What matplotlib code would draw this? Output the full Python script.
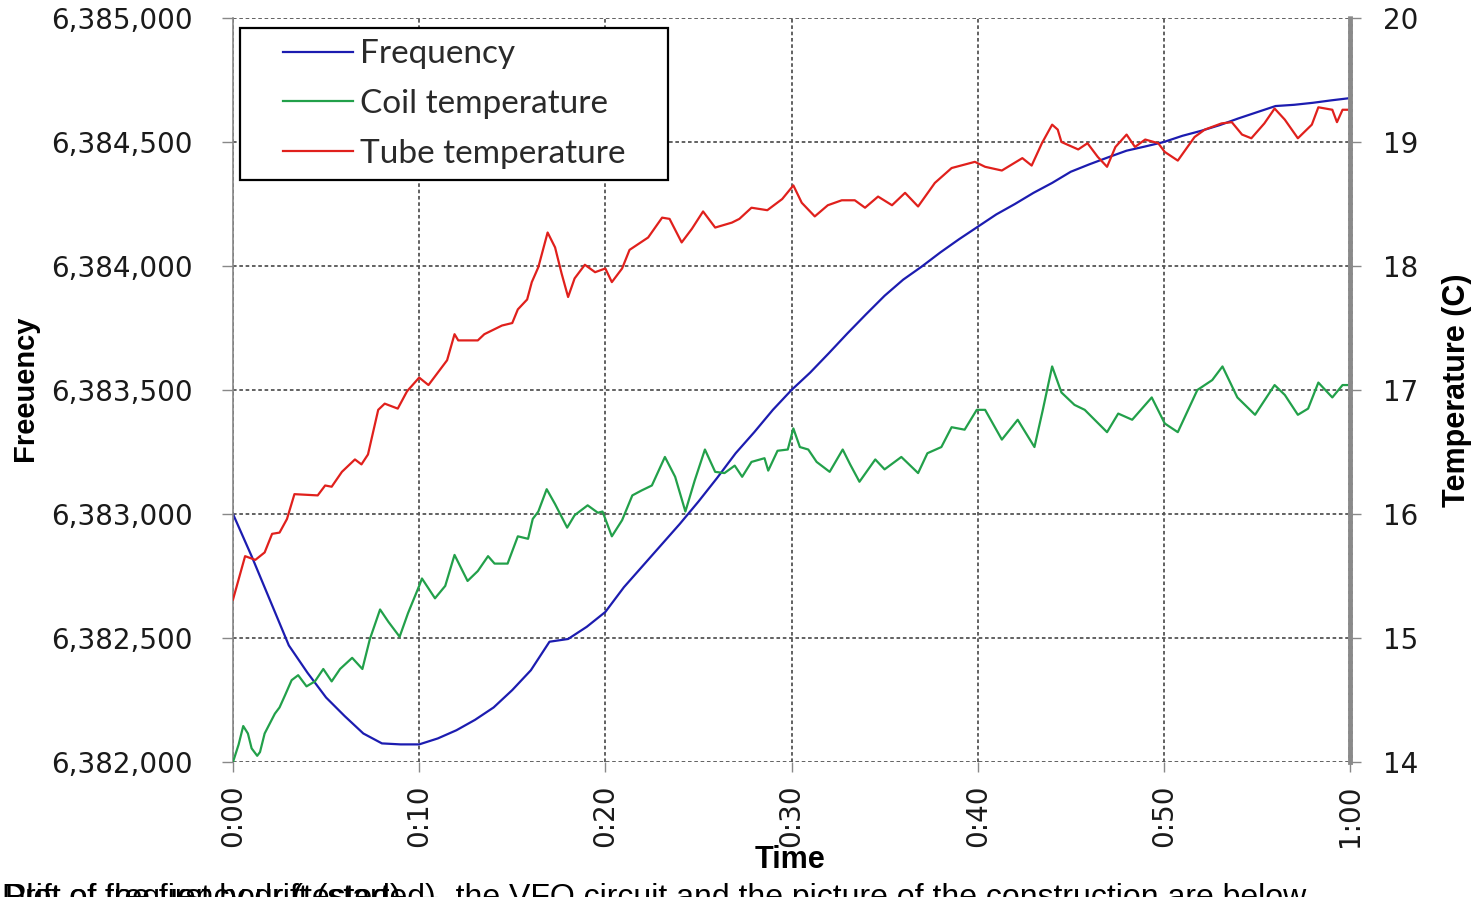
import numpy as np
import matplotlib
matplotlib.use("Agg")
import matplotlib.pyplot as plt
from matplotlib.ticker import FuncFormatter, MultipleLocator
from matplotlib.legend_handler import HandlerLine2D

# frequency (Hz), one reading per minute
freq_min = list(range(61))
freq_hz = [6383000, 6382830, 6382650, 6382470, 6382360, 6382260, 6382185, 6382115, 6382075, 6382071,
           6382071, 6382095, 6382128, 6382170, 6382220, 6382290, 6382370, 6382485, 6382496, 6382545,
           6382605, 6382705, 6382790, 6382875, 6382960, 6383050, 6383145, 6383245, 6383330, 6383420,
           6383500, 6383570, 6383648, 6383728, 6383805, 6383880, 6383945, 6383998, 6384055, 6384108,
           6384158, 6384208, 6384250, 6384295, 6384335, 6384380, 6384410, 6384438, 6384465, 6384482,
           6384500, 6384525, 6384545, 6384568, 6384595, 6384620, 6384645, 6384650, 6384658, 6384668,
           6384677]

# coil temperature (C)
coil_min = [0, 0.3, 0.55, 0.8, 1.0, 1.3, 1.45, 1.7, 2.25, 2.5, 2.8, 3.15, 3.5, 3.95, 4.4, 4.85, 5.3, 5.75,
            6.4, 6.95, 7.35, 7.9, 8.35, 8.95, 9.4, 10.0, 10.15, 10.85, 11.4, 11.9, 12.6, 13.15, 13.7, 14.05,
            14.75, 15.3, 15.85, 16.1, 16.4, 16.85, 17.3, 17.95, 18.35, 19.05, 19.6, 19.85, 20.35, 20.9,
            21.45, 21.95, 22.5, 23.2, 23.75, 24.3, 24.8, 25.35, 25.9, 26.4, 26.95, 27.35, 27.85, 28.55,
            28.75, 29.25, 29.8, 30.1, 30.45, 30.9, 31.35, 32.05, 32.75, 33.15, 33.65, 34.5, 35.0, 35.9,
            36.8, 37.3, 38.05, 38.6, 39.3, 39.95, 40.4, 41.3, 42.15, 43.05, 43.5, 44.0, 44.5, 45.2, 45.75,
            46.95, 47.55, 48.3, 49.35, 50.05, 50.75, 51.8, 52.6, 53.15, 53.95, 54.9, 55.95, 56.5, 57.2,
            57.75, 58.3, 59.05, 59.6, 60]
coil_c = [14.0, 14.14, 14.29, 14.23, 14.11, 14.05, 14.08, 14.23, 14.39, 14.44, 14.54, 14.66, 14.70, 14.61,
          14.65, 14.75, 14.65, 14.75, 14.84, 14.75, 14.99, 15.23, 15.13, 15.01, 15.20, 15.42, 15.48, 15.32,
          15.42, 15.67, 15.46, 15.54, 15.66, 15.60, 15.60, 15.82, 15.80, 15.96, 16.02, 16.20, 16.08, 15.89,
          15.99, 16.07, 16.01, 16.02, 15.82, 15.95, 16.15, 16.19, 16.23, 16.46, 16.30, 16.02, 16.27, 16.52,
          16.34, 16.33, 16.39, 16.30, 16.42, 16.45, 16.35, 16.51, 16.52, 16.69, 16.54, 16.52, 16.42, 16.34,
          16.52, 16.40, 16.26, 16.44, 16.36, 16.46, 16.33, 16.49, 16.54, 16.70, 16.68, 16.84, 16.84, 16.60,
          16.76, 16.54, 16.84, 17.19, 16.98, 16.88, 16.84, 16.66, 16.81, 16.76, 16.94, 16.73, 16.66, 17.0,
          17.08, 17.19, 16.94, 16.80, 17.04, 16.96, 16.80, 16.85, 17.06, 16.94, 17.04, 17.04]

# tube temperature (C)
tube_min = [0, 0.65, 1.2, 1.7, 2.1, 2.5, 2.9, 3.3, 4.55, 4.95, 5.3, 5.85, 6.55, 6.9, 7.25, 7.8, 8.15, 8.85,
            9.35, 10.0, 10.5, 11.5, 11.9, 12.1, 13.15, 13.5, 14.45, 15.0, 15.3, 15.8, 16.05, 16.4, 16.9,
            17.3, 17.65, 18.0, 18.35, 18.9, 19.45, 20.0, 20.35, 20.9, 21.3, 22.3, 23.05, 23.45, 24.1, 24.65,
            25.25, 25.9, 26.8, 27.2, 27.85, 28.7, 29.5, 30.1, 30.55, 31.25, 31.95, 32.7, 33.4, 33.95, 34.65,
            35.4, 36.1, 36.8, 37.7, 38.6, 39.85, 40.4, 41.3, 42.4, 42.9, 43.45, 44.0, 44.3, 44.5, 45.4, 45.9,
            46.45, 46.95, 47.4, 48.0, 48.45, 49.0, 49.7, 50.05, 50.75, 51.65, 52.2, 53.1, 53.65, 54.2, 54.7,
            55.4, 55.95, 56.5, 57.2, 57.95, 58.3, 59.05, 59.3, 59.6, 60.0]
tube_c = [15.31, 15.66, 15.63, 15.69, 15.84, 15.85, 15.96, 16.16, 16.15, 16.23, 16.22, 16.34, 16.44, 16.40,
          16.48, 16.84, 16.89, 16.85, 16.99, 17.10, 17.04, 17.24, 17.45, 17.40, 17.40, 17.45, 17.52, 17.54,
          17.65, 17.73, 17.87, 17.99, 18.27, 18.15, 17.94, 17.75, 17.90, 18.01, 17.95, 17.98, 17.87, 17.98,
          18.13, 18.23, 18.39, 18.38, 18.19, 18.30, 18.44, 18.31, 18.35, 18.38, 18.47, 18.45, 18.54, 18.65,
          18.51, 18.40, 18.49, 18.53, 18.53, 18.47, 18.56, 18.49, 18.59, 18.48, 18.67, 18.79, 18.84, 18.80,
          18.77, 18.87, 18.81, 18.99, 19.14, 19.10, 19.0, 18.94, 18.99, 18.88, 18.80, 18.96, 19.06, 18.96,
          19.02, 18.99, 18.92, 18.85, 19.04, 19.10, 19.15, 19.16, 19.06, 19.03, 19.15, 19.27, 19.18, 19.03,
          19.14, 19.28, 19.26, 19.16, 19.26, 19.26]

BLUE = "#1c1cb0"
GREEN = "#22a04a"
RED = "#e0201c"
TXT = "#1a1a1a"


# legend line drawn only on the right part of the handle box
class ShortLine(HandlerLine2D):
    def get_xdata(self, legend, xdescent, ydescent, width, height, fontsize):
        x = np.array([-xdescent + width * 0.31, -xdescent + width])
        return x, x


fig = plt.figure(figsize=(14.72, 8.97), dpi=100)
ax = fig.add_axes([233 / 1472, 1 - 762 / 897, 1117 / 1472, 744 / 897])
ax2 = ax.twinx()

l1, = ax.plot(freq_min, freq_hz, color=BLUE, lw=1.6, label="Frequency")
l2, = ax2.plot(coil_min, coil_c, color=GREEN, lw=1.6, label="Coil temperature")
l3, = ax2.plot(tube_min, tube_c, color=RED, lw=1.6, label="Tube temperature")

ax.set_xlim(0, 60)
ax.set_ylim(6382000, 6385000)
ax2.set_ylim(14, 20)

ax.xaxis.set_major_locator(MultipleLocator(10))
ax.xaxis.set_major_formatter(FuncFormatter(lambda v, p: "%d:%02d" % (v // 60, v % 60)))
ax.yaxis.set_major_locator(MultipleLocator(500))
ax.yaxis.set_major_formatter(FuncFormatter(lambda v, p: f"{int(v):,}"))
ax2.yaxis.set_major_locator(MultipleLocator(1))

ax.grid(True, color="#555555", lw=1.3, ls=(0, (2, 1.5)))

for a in (ax, ax2):
    for s in a.spines.values():
        s.set_visible(False)
ax.spines["left"].set_visible(True)
ax.spines["left"].set_color("#888888")
ax.spines["left"].set_linewidth(1.2)
ax2.spines["right"].set_visible(True)
ax2.spines["right"].set_color("#8a8a8a")
ax2.spines["right"].set_linewidth(3.5)
ax2.spines["right"].set_linestyle((0, (1, 0.6)))

ax.tick_params(axis="y", length=8, width=1, color="#888888", pad=21, labelsize=20, labelcolor=TXT)
ax.tick_params(axis="x", length=7, width=1, color="#888888", pad=9, labelsize=20, labelcolor=TXT,
               labelrotation=90)
ax2.tick_params(axis="y", length=8, width=1, color="#888888", pad=16, labelsize=20, labelcolor=TXT)

lab_font = dict(family=["Liberation Sans", "DejaVu Sans"], fontweight="bold", fontsize=21,
                color="black")
fig.text(25 / 1472, 1 - 388 / 897, "Freeuency", rotation=90, ha="center", va="center", **lab_font)
fig.text(1457 / 1472, 1 - 390 / 897, "Temperature (C)", rotation=90, ha="center", va="center",
         **dict(lab_font, fontsize=22))

# caption text of the page under the chart, cut off by the bottom edge
cap = dict(family=["Liberation Sans", "DejaVu Sans"], fontsize=23, color="black", va="top")
fig.text(2 / 1472, 1 - 883 / 897, "Drift of the first hour (tested)", **cap)
fig.text(5 / 1472, 1 - 883 / 897, "Plot of frequency drift (started)", **cap)
fig.text(420 / 1472, 1 - 883 / 897, "\u2013  the VFO circuit and the picture of the construction are below.", **cap)
fig.text(790 / 1472, 1 - 868 / 897, "Time", ha="center", **dict(lab_font, fontsize=22))

leg = ax2.legend(handles=[l1, l2, l3], loc="upper left",
                 bbox_to_anchor=(7 / 1117, 1 - 163 / 744, 428 / 1117, 153 / 744), mode="expand",
                 borderaxespad=0, fancybox=False, framealpha=1, edgecolor="black",
                 prop=dict(family=["Lato", "DejaVu Sans"], size=24),
                 handlelength=3.06, handletextpad=0.2, labelspacing=0.59, borderpad=0.34,
                 handler_map={l1: ShortLine(), l2: ShortLine(), l3: ShortLine()})
leg.get_frame().set_linewidth(1.6)
for t in leg.get_texts():
    t.set_color("#2a2a2a")

fig.savefig("out.png", dpi=100)
